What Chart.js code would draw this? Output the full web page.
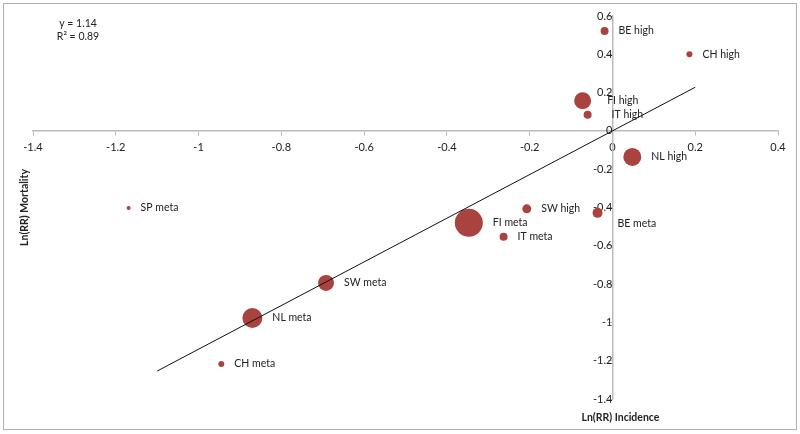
<!DOCTYPE html>
<html>
<head>
<meta charset="utf-8">
<script src="https://cdn.jsdelivr.net/npm/chart.js@4"></script>
<style>
  html, body { margin: 0; padding: 0; background: #fff; }
  #wrap { position: relative; width: 800px; height: 434px; }
  #frame { position: absolute; left: 3px; top: 3px; width: 792px; height: 425px; border: 1.5px solid #b0b0b0; pointer-events: none; }
</style>
</head>
<body>
<div id="wrap">
  <canvas id="chart" width="800" height="434"></canvas>
  <div id="frame"></div>
</div>
<script>
// Study labels and values
const studies = ['BE high', 'CH high', 'FI high', 'IT high', 'NL high', 'SW high',
  'FI meta', 'IT meta', 'BE meta', 'SW meta', 'NL meta', 'CH meta', 'SP meta'];
const incidence = [-0.019, 0.186, -0.072, -0.060, 0.048, -0.207,
  -0.347, -0.263, -0.036, -0.692, -0.870, -0.945, -1.169];
const mortality = [0.522, 0.400, 0.157, 0.084, -0.136, -0.407,
  -0.480, -0.553, -0.428, -0.794, -0.977, -1.217, -0.402];
// bubble size (radius as drawn)
const bubbleSize = [4, 3, 8.5, 4, 9, 4.5, 14, 4, 5, 8, 10, 3, 2];

// fitted line endpoints
const trendX = [-1.1, 0.2];
const trendY = [-1.254, 0.228];

const xTicks = [-1.4, -1.2, -1, -0.8, -0.6, -0.4, -0.2, 0, 0.2, 0.4];
const yTicks = [-1.4, -1.2, -1, -0.8, -0.6, -0.4, -0.2, 0, 0.2, 0.4, 0.6];

const fontFamily = 'Lato, "Open Sans", sans-serif';

// a few labels that sit away from the default spot
const labelNudge = {
  'FI high': { dx: 6, dy: 0 },
  'IT high': { dx: 10, dy: 0 },
  'BE meta': { dx: 5, dy: 11 }
};

const bubbleLabels = {
  id: 'bubbleLabels',
  afterDatasetsDraw(chart) {
    const ctx = chart.ctx;
    const meta = chart.getDatasetMeta(0);
    ctx.save();
    ctx.font = '10.5px ' + fontFamily;
    ctx.fillStyle = '#222';
    ctx.textBaseline = 'middle';
    ctx.textAlign = 'left';
    meta.data.forEach((el, i) => {
      const n = labelNudge[studies[i]] || { dx: 0, dy: 0 };
      ctx.fillText(studies[i], el.x + bubbleSize[i] + 10 + n.dx, el.y + n.dy);
    });
    ctx.restore();
  }
};

const extraText = {
  id: 'extraText',
  afterDraw(chart) {
    const ctx = chart.ctx;
    const area = chart.chartArea;
    const xs = chart.scales.x;
    ctx.save();
    ctx.fillStyle = '#222';
    ctx.textAlign = 'center';
    ctx.textBaseline = 'middle';
    ctx.font = '10.5px ' + fontFamily;
    ctx.fillText('y = 1.14', 78, 24);
    ctx.fillText('R\u00b2 = 0.89', 78, 37);

    ctx.font = 'bold 10.5px ' + fontFamily;
    ctx.fillText('Ln(RR) Incidence', xs.getPixelForValue(0) + 8, area.bottom + 19);

    ctx.translate(area.left - 8, (area.top + area.bottom) / 2);
    ctx.rotate(-Math.PI / 2);
    ctx.fillText('Ln(RR) Mortality', 0, 0);
    ctx.restore();
  }
};

new Chart(document.getElementById('chart'), {
  data: {
    datasets: [
      {
        type: 'bubble',
        label: 'Studies',
        data: incidence.map((x, i) => ({ x: x, y: mortality[i], r: bubbleSize[i] })),
        backgroundColor: '#a8433f',
        borderColor: '#a8433f',
        borderWidth: 0,
        order: 2
      },
      {
        type: 'line',
        label: 'Trend',
        data: trendX.map((x, i) => ({ x: x, y: trendY[i] })),
        borderColor: '#111',
        borderWidth: 1,
        pointRadius: 0,
        fill: false,
        order: 1
      }
    ]
  },
  options: {
    responsive: false,
    animation: false,
    layout: { padding: { left: 33, right: 22, top: 16, bottom: 35 } },
    plugins: {
      legend: { display: false },
      tooltip: { enabled: false }
    },
    scales: {
      x: {
        type: 'linear',
        position: { y: 0 },
        min: -1.4,
        max: 0.4,
        afterBuildTicks: axis => { axis.ticks = xTicks.map(v => ({ value: v })); },
        ticks: {
          font: { family: fontFamily, size: 11 },
          color: '#222',
          padding: 6,
          callback: v => String(Math.round(v * 10) / 10)
        },
        grid: { display: true, drawOnChartArea: false, drawTicks: true, tickLength: 4, color: '#bbb' },
        border: { display: true, color: '#bbb', width: 1.5 }
      },
      y: {
        type: 'linear',
        position: { x: 0 },
        min: -1.4,
        max: 0.6,
        afterBuildTicks: axis => { axis.ticks = yTicks.map(v => ({ value: v })); },
        ticks: {
          font: { family: fontFamily, size: 11 },
          color: '#222',
          padding: 4,
          callback: v => String(Math.round(v * 10) / 10)
        },
        grid: { display: true, drawOnChartArea: false, drawTicks: true, tickLength: 4, color: '#bbb' },
        border: { display: true, color: '#bbb', width: 1.5 }
      }
    }
  },
  plugins: [bubbleLabels, extraText]
});
</script>
</body>
</html>
